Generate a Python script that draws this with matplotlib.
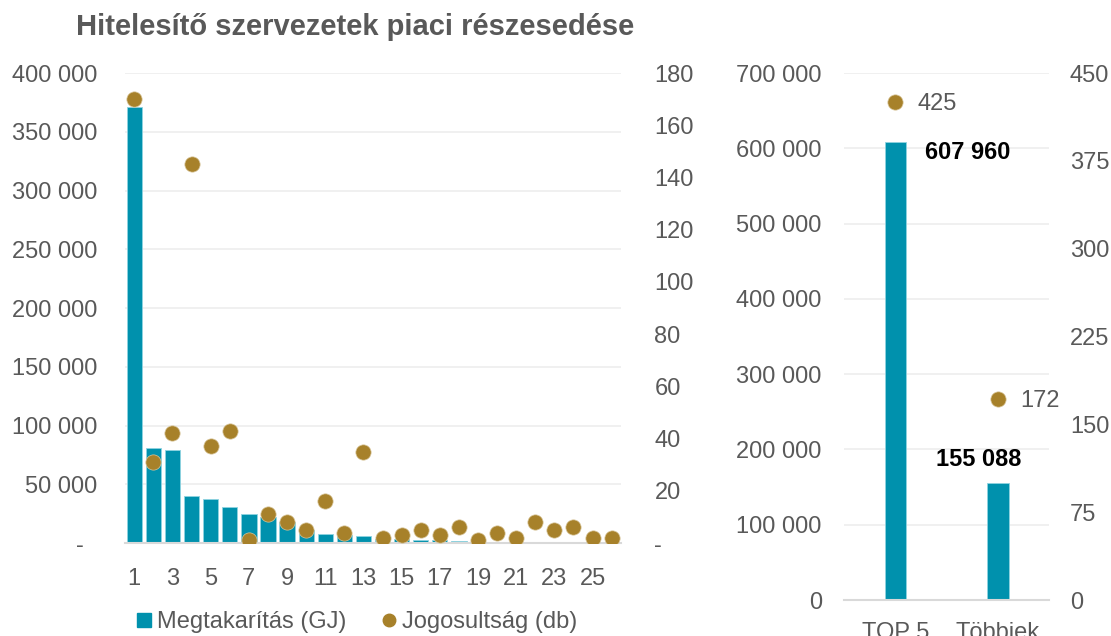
import matplotlib
matplotlib.use("Agg")
import matplotlib.pyplot as plt
from matplotlib.lines import Line2D
from matplotlib.ticker import FuncFormatter

plt.rcParams['font.family'] = ['Liberation Sans', 'DejaVu Sans']

# adatok
ranks = list(range(1, 27))
megtakaritas = [371000, 81000, 79000, 40000, 37700, 30400, 24400, 22000, 17500, 11000,
                7400, 6500, 5900, 3200, 3000, 2600, 2200, 1600, 1100, 900,
                700, 500, 400, 300, 200, 150]
jogosultsag = [170, 31, 42, 145, 37, 43, 1, 11, 8, 5,
               16, 4, 35, 2, 3, 5, 3, 6, 1, 4,
               2, 8, 5, 6, 2, 2]

groups = ["TOP 5", "Többiek"]
group_megtakaritas = [607960, 155088]
group_jogosultsag = [425, 172]

BAR = '#0091AD'
DOT = '#A7812A'
GRID = '#EDEDED'
BASE = '#D9D9D9'
TXT = '#595959'
FS = 17


def space_fmt(v, pos=None):
    if v == 0:
        return '-  '
    return f"{int(v):,}".replace(",", " ")


def zero_fmt(v, pos=None):
    return f"{int(v):,}".replace(",", " ")


def clean(ax):
    for s in ['top', 'left', 'right']:
        ax.spines[s].set_visible(False)
    ax.spines['bottom'].set_color(BASE)
    ax.spines['bottom'].set_linewidth(1.5)


fig = plt.figure(figsize=(11.11, 6.36), dpi=100)

# bal oldali diagram
ax1 = fig.add_axes([0.1123, 0.1462, 0.4468, 0.739])
ax1.bar(ranks, megtakaritas, width=0.8, color=BAR, edgecolor='#8FD3E0', linewidth=0.6, zorder=2)
ax1.set_xlim(0.5, 26.5)
ax1.set_ylim(0, 400000)
ax1.set_yticks(range(0, 400001, 50000))
ax1.yaxis.set_major_formatter(FuncFormatter(space_fmt))
ax1.set_xticks(range(1, 27, 2))
ax1.grid(axis='y', color=GRID, linewidth=1.2, zorder=0)
ax1.set_axisbelow(True)
clean(ax1)
ax1.tick_params(axis='both', length=0, labelsize=FS, labelcolor=TXT)
ax1.tick_params(axis='y', pad=20)
ax1.tick_params(axis='x', pad=18)

ax1b = ax1.twinx()
ax1b.plot(ranks, jogosultsag, 'o', color=DOT, markersize=11, markeredgecolor='#D8C59A',
          markeredgewidth=0.5, zorder=3)
ax1b.set_ylim(0, 180)
ax1b.set_yticks(range(0, 181, 20))
ax1b.yaxis.set_major_formatter(FuncFormatter(lambda v, p: '-' if v == 0 else f"{int(v)}"))
clean(ax1b)
ax1b.spines['bottom'].set_visible(False)
ax1b.tick_params(axis='y', length=0, labelsize=FS, labelcolor=TXT, pad=24)

# jobb oldali diagram
ax2 = fig.add_axes([0.7597, 0.0566, 0.1845, 0.8286])
xs = [0, 1]
ax2.bar(xs, group_megtakaritas, width=0.21, color=BAR, edgecolor='#8FD3E0', linewidth=0.6, zorder=2)
ax2.set_xlim(-0.5, 1.5)
ax2.set_ylim(0, 700000)
ax2.set_yticks(range(0, 700001, 100000))
ax2.yaxis.set_major_formatter(FuncFormatter(zero_fmt))
ax2.set_xticks(xs)
ax2.set_xticklabels(groups)
ax2.grid(axis='y', color=GRID, linewidth=1.2, zorder=0)
ax2.set_axisbelow(True)
clean(ax2)
ax2.tick_params(axis='both', length=0, labelsize=FS, labelcolor=TXT)
ax2.tick_params(axis='y', pad=16)
ax2.tick_params(axis='x', pad=16)

ax2b = ax2.twinx()
ax2b.plot(xs, group_jogosultsag, 'o', color=DOT, markersize=11, markeredgecolor='#D8C59A',
          markeredgewidth=0.5, zorder=3)
ax2b.set_ylim(0, 450)
ax2b.set_yticks(range(0, 451, 75))
clean(ax2b)
ax2b.spines['bottom'].set_visible(False)
ax2b.tick_params(axis='y', length=0, labelsize=FS, labelcolor=TXT, pad=15)

# feliratok
ax2.annotate(zero_fmt(group_megtakaritas[0]), xy=(0, group_megtakaritas[0]), xytext=(30, -10),
             textcoords='offset pixels', ha='left', va='center', fontsize=FS,
             fontweight='bold', color='black')
ax2.annotate(zero_fmt(group_megtakaritas[1]), xy=(1, group_megtakaritas[1]), xytext=(-19, 24),
             textcoords='offset pixels', ha='center', va='center', fontsize=FS,
             fontweight='bold', color='black')
for x, v in zip(xs, group_jogosultsag):
    ax2b.annotate(str(v), xy=(x, v), xytext=(22, -2), textcoords='offset pixels',
                  ha='left', va='center', fontsize=FS, color=TXT)

fig.text(0.3195, 0.958, "Hitelesítő szervezetek piaci részesedése", ha='center', va='center',
         fontsize=21, fontweight='bold', color=TXT)

handles = [Line2D([], [], linestyle='none', marker='s', markersize=10.5, color=BAR),
           Line2D([], [], linestyle='none', marker='o', markersize=9, color=DOT)]
fig.legend(handles, ["Megtakarítás (GJ)", "Jogosultság (db)"], loc='center left',
           bbox_to_anchor=(0.115, 0.022), ncol=2, frameon=False, fontsize=FS,
           handlelength=0.6, handletextpad=0.25, columnspacing=1.5, borderaxespad=0,
           labelcolor=TXT)

fig.savefig("out.png", dpi=100)
